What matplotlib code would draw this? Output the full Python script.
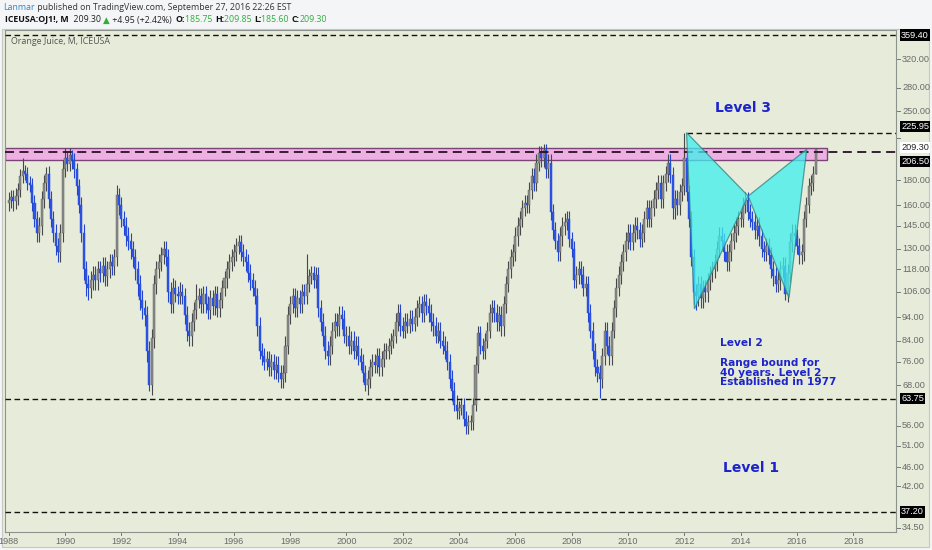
import matplotlib
matplotlib.use("Agg")
import matplotlib.pyplot as plt
from matplotlib.patches import Rectangle, Polygon
from matplotlib.ticker import NullLocator
import numpy as np

# ---------------- data (monthly OHLC, Jan 1988 .. Sep 2016) ----------------
START_YEAR = 1988
opens = [
    162, 164, 166, 163, 167, 172, 184, 188, 186, 178, 176, 162,   # 1988
    150, 140, 145, 165, 178, 186, 165, 150, 140, 132, 128, 140,   # 1989
    190, 200, 195, 203, 198, 190, 175, 160, 140, 118, 110, 108,   # 1990
    112, 115, 112, 118, 116, 120, 114, 118, 122, 120, 125, 168,   # 1991
    160, 150, 145, 138, 135, 130, 125, 118, 110, 102, 98, 95,     # 1992
    80, 68, 85, 110, 118, 122, 126, 130, 125, 106, 100, 108,      # 1993
    105, 104, 106, 104, 95, 88, 86, 92, 97, 102, 104, 100,        # 1994
    105, 100, 97, 103, 99, 105, 98, 102, 108, 113, 118, 122,      # 1995
    125, 128, 132, 134, 128, 125, 122, 116, 112, 108, 104, 90,    # 1996
    80, 78, 76, 77, 74, 76, 73, 75, 72, 70, 72, 82,               # 1997
    95, 100, 104, 98, 103, 100, 106, 104, 110, 114, 116, 112,     # 1998
    115, 98, 92, 86, 80, 78, 82, 88, 92, 90, 95, 93,              # 1999
    86, 86, 82, 84, 80, 82, 78, 76, 72, 68, 70, 74,               # 2000
    76, 75, 78, 74, 77, 80, 80, 82, 84, 86, 92, 96,               # 2001
    90, 88, 92, 90, 93, 91, 94, 98, 100, 96, 101, 99,             # 2002
    96, 92, 90, 86, 88, 84, 82, 80, 76, 70, 66, 62,               # 2003
    60, 61, 62, 58, 56, 57, 57, 62, 75, 87, 82, 80,               # 2004
    84, 88, 96, 98, 96, 92, 95, 90, 100, 110, 118, 125,           # 2005
    128, 138, 145, 150, 158, 162, 160, 172, 184, 178, 196, 205,   # 2006
    200, 208, 190, 196, 155, 142, 135, 128, 138, 145, 148, 150,   # 2007
    136, 130, 112, 115, 118, 115, 108, 110, 96, 88, 80, 74,       # 2008
    72, 70, 78, 88, 82, 78, 88, 98, 108, 115, 122, 128,           # 2009
    135, 140, 134, 140, 145, 142, 136, 140, 150, 158, 150, 158,   # 2010
    165, 172, 178, 165, 178, 186, 196, 185, 158, 165, 160, 170,   # 2011
    175, 200, 170, 150, 125, 106, 104, 110, 103, 108, 106, 112,   # 2012
    116, 118, 122, 130, 138, 135, 128, 122, 128, 135, 140, 145,   # 2013
    150, 150, 160, 164, 155, 150, 148, 142, 145, 138, 130, 128,   # 2014
    132, 126, 118, 114, 110, 112, 118, 120, 105, 116, 134, 140,   # 2015
    138, 132, 126, 128, 150, 160, 175, 178, 185.75,               # 2016
]
highs = [
    170, 172, 172, 174, 178, 190, 200, 194, 192, 184, 182, 168,
    156, 151, 171, 185, 192, 193, 171, 156, 146, 137, 146, 198,
    210, 207, 210, 208, 205, 196, 181, 166, 146, 123, 115, 117,
    120, 120, 123, 123, 125, 125, 123, 127, 127, 130, 176, 174,
    166, 156, 151, 144, 140, 135, 130, 123, 115, 107, 102, 99,
    84, 89, 115, 123, 127, 131, 135, 135, 130, 111, 113, 112,
    109, 111, 110, 108, 99, 92, 96, 101, 110, 108, 108, 109,
    109, 104, 107, 107, 109, 109, 106, 112, 117, 123, 127, 130,
    133, 137, 139, 139, 133, 130, 127, 121, 116, 112, 108, 94,
    83, 81, 80, 80, 79, 79, 78, 78, 75, 75, 86, 99,
    104, 108, 108, 107, 107, 110, 110, 127, 118, 120, 120, 119,
    119, 102, 96, 90, 84, 86, 92, 96, 96, 99, 99, 97,
    90, 90, 88, 88, 86, 86, 81, 79, 75, 73, 77, 79,
    79, 81, 81, 80, 83, 83, 85, 87, 89, 96, 100, 100,
    94, 96, 96, 97, 97, 98, 102, 104, 104, 105, 105, 103,
    100, 96, 94, 92, 92, 88, 86, 84, 79, 73, 69, 65,
    63, 64, 64, 60, 59, 59, 64, 78, 90, 90, 85, 87,
    92, 100, 102, 102, 100, 99, 99, 104, 114, 123, 130, 133,
    144, 151, 156, 164, 168, 168, 179, 191, 191, 204, 212, 212,
    214, 214, 204, 204, 161, 148, 140, 144, 151, 154, 156, 156,
    141, 135, 120, 123, 123, 120, 114, 114, 100, 92, 83, 77,
    75, 81, 92, 92, 86, 92, 102, 113, 120, 127, 133, 141,
    146, 146, 146, 151, 151, 148, 146, 156, 164, 164, 164, 172,
    179, 185, 185, 185, 193, 204, 204, 192, 172, 172, 177, 182,
    226, 206, 176, 156, 130, 110, 114, 114, 112, 112, 116, 120,
    123, 127, 135, 144, 144, 140, 133, 133, 140, 146, 151, 156,
    156, 166, 170, 170, 161, 156, 154, 151, 151, 143, 135, 137,
    137, 131, 123, 119, 117, 123, 125, 125, 121, 140, 146, 146,
    143, 137, 133, 156, 166, 182, 185, 193, 209.85,
]
lows = [
    156, 158, 156, 157, 160, 166, 178, 180, 172, 170, 156, 144,
    134, 134, 139, 158, 171, 158, 144, 134, 126, 122, 122, 134,
    183, 188, 188, 190, 182, 168, 154, 134, 112, 104, 102, 103,
    107, 107, 107, 111, 111, 109, 109, 113, 115, 115, 120, 153,
    144, 139, 132, 129, 124, 119, 112, 104, 97, 93, 90, 76,
    66, 65, 81, 105, 113, 117, 121, 120, 101, 96, 96, 101,
    100, 100, 100, 91, 84, 82, 82, 88, 93, 98, 96, 96,
    96, 93, 93, 95, 95, 94, 94, 98, 104, 108, 113, 117,
    120, 123, 127, 123, 120, 117, 111, 107, 104, 100, 86, 77,
    75, 73, 73, 71, 71, 70, 70, 69, 67, 67, 69, 79,
    91, 96, 94, 94, 96, 96, 100, 100, 106, 110, 108, 108,
    94, 88, 82, 77, 75, 75, 79, 85, 86, 86, 89, 83,
    82, 79, 79, 77, 77, 75, 73, 69, 66, 65, 67, 71,
    72, 72, 71, 71, 74, 77, 77, 79, 81, 83, 88, 86,
    85, 85, 87, 87, 88, 88, 90, 94, 92, 92, 95, 92,
    88, 86, 83, 83, 81, 79, 77, 73, 67, 63, 60, 58,
    58, 59, 56, 54, 54, 55, 55, 60, 72, 79, 77, 77,
    81, 85, 92, 92, 88, 88, 86, 86, 96, 106, 113, 120,
    123, 132, 139, 144, 152, 154, 154, 165, 171, 171, 188, 192,
    192, 182, 182, 149, 136, 130, 123, 123, 132, 139, 142, 131,
    125, 108, 108, 110, 110, 104, 104, 92, 85, 77, 71, 69,
    64, 67, 75, 79, 75, 75, 85, 94, 104, 110, 117, 123,
    130, 129, 129, 134, 136, 131, 131, 134, 144, 144, 144, 152,
    158, 165, 158, 158, 171, 179, 178, 150, 150, 153, 153, 163,
    168, 163, 144, 120, 100, 97, 99, 98, 98, 101, 101, 107,
    111, 113, 117, 125, 130, 123, 117, 117, 123, 130, 134, 139,
    144, 144, 154, 149, 144, 142, 136, 136, 132, 125, 123, 123,
    121, 113, 109, 106, 106, 107, 113, 102, 101, 111, 128, 132,
    127, 121, 121, 123, 144, 154, 168, 171, 185.6,
]
closes = [
    164, 166, 163, 167, 172, 184, 188, 186, 178, 176, 162, 150,
    140, 145, 165, 178, 186, 165, 150, 140, 132, 128, 140, 190,
    200, 195, 203, 198, 190, 175, 160, 140, 118, 110, 108, 112,
    115, 112, 118, 116, 120, 114, 118, 122, 120, 125, 168, 160,
    150, 145, 138, 135, 130, 125, 118, 110, 102, 98, 95, 80,
    68, 85, 110, 118, 122, 126, 130, 125, 106, 100, 108, 105,
    104, 106, 104, 95, 88, 86, 92, 97, 102, 104, 100, 105,
    100, 97, 103, 99, 105, 98, 102, 108, 113, 118, 122, 125,
    128, 132, 134, 128, 125, 122, 116, 112, 108, 104, 90, 80,
    78, 76, 77, 74, 76, 73, 75, 72, 70, 72, 82, 95,
    100, 104, 98, 103, 100, 106, 104, 110, 114, 116, 112, 115,
    98, 92, 86, 80, 78, 82, 88, 92, 90, 95, 93, 86,
    86, 82, 84, 80, 82, 78, 76, 72, 68, 70, 74, 76,
    75, 78, 74, 77, 80, 80, 82, 84, 86, 92, 96, 90,
    88, 92, 90, 93, 91, 94, 98, 100, 96, 101, 99, 96,
    92, 90, 86, 88, 84, 82, 80, 76, 70, 66, 62, 60,
    61, 62, 58, 56, 57, 57, 62, 75, 87, 82, 80, 84,
    88, 96, 98, 96, 92, 95, 90, 100, 110, 118, 125, 128,
    138, 145, 150, 158, 162, 160, 172, 184, 178, 196, 205, 200,
    208, 190, 196, 155, 142, 135, 128, 138, 145, 148, 150, 136,
    130, 112, 115, 118, 115, 108, 110, 96, 88, 80, 74, 72,
    70, 78, 88, 82, 78, 88, 98, 108, 115, 122, 128, 135,
    140, 134, 140, 145, 142, 136, 140, 150, 158, 150, 158, 165,
    172, 178, 165, 178, 186, 196, 185, 158, 165, 160, 170, 175,
    200, 170, 150, 125, 106, 104, 110, 103, 108, 106, 112, 116,
    118, 122, 130, 138, 135, 128, 122, 128, 135, 140, 145, 150,
    150, 160, 164, 155, 150, 148, 142, 145, 138, 130, 128, 132,
    126, 118, 114, 110, 112, 118, 120, 105, 116, 134, 140, 138,
    132, 126, 128, 150, 160, 175, 178, 185.75, 209.3,
]

# horizontal levels and zone
full_levels = [359.40, 63.75, 37.20]
x_level = 225.95
zone_line = 206.50
last_price = 209.30
zone_low, zone_high, zone_end = 198.3, 209.7, 2017.07

# butterfly pattern points X, A, B, C, D
pattern_years = [2012.08, 2012.36, 2014.27, 2015.72, 2016.35]
pattern_prices = [225.95, 97.7, 167.1, 103.0, 208.7]

# axis ticks
y_ticks = [34.5, 42, 46, 51, 56, 68, 76, 84, 94, 106, 118, 130, 145, 160, 180, 220, 250, 280, 320]
x_tick_years = list(range(1988, 2019, 2))

# ---------------- figure ----------------
W, H = 932, 550
BG = "#e6ecd9"
fig = plt.figure(figsize=(W / 100, H / 100), dpi=100, facecolor="#f3f5f6")
fig.patches.append(Rectangle((2 / W, 1 - 547 / H), 927 / W, 518 / H, transform=fig.transFigure,
                             facecolor=BG, edgecolor="#c4c8c4", lw=0.8, zorder=-10))

ax_l, ax_r, ax_t, ax_b = 5, 896, 30, 532
ax = fig.add_axes([ax_l / W, 1 - ax_b / H, (ax_r - ax_l) / W, (ax_b - ax_t) / H])
ax.set_zorder(1)
ax.set_facecolor(BG)
ax.set_yscale("log")
ax.set_xlim(1987.869, 2019.521)
ax.set_ylim(33.82, 368.1)
ax.yaxis.set_minor_locator(NullLocator())
ax.set_xticks([])
ax.set_yticks([])
for s in ax.spines.values():
    s.set_color("#8c928c")
    s.set_linewidth(0.8)

# candles
o = np.array(opens, float)
h = np.array(highs, float)
l = np.array(lows, float)
c = np.array(closes, float)
xs = START_YEAR + np.arange(len(c)) / 12.0
up = c >= o
body_col = np.where(up, "#8c8c8c", "#2d55e6")
edge_col = np.where(up, "#5a5a5a", "#2346d0")
wick_col = np.where(up, "#474747", "#2346d0")
ax.vlines(xs, l, h, colors=wick_col, lw=0.8, zorder=3)
bot = np.minimum(o, c)
hgt = np.maximum(np.abs(c - o), 0.4)
ax.bar(xs, hgt, bottom=bot, width=0.072, color=body_col, edgecolor=edge_col, lw=0.3, zorder=4)

# zone
ax.add_patch(Rectangle((1987.869, zone_low), zone_end - 1987.869, zone_high - zone_low,
                       facecolor="#eeb0e2", edgecolor="#7a4576", lw=1.0, zorder=2))

# dashed levels
for lv in full_levels:
    ax.axhline(lv, color="#111111", lw=1.0, ls=(0, (4, 2.5)), zorder=5)
ax.plot([pattern_years[0], 2019.521], [x_level, x_level], color="#111111", lw=1.0,
        ls=(0, (4, 2.5)), zorder=5)
ax.axhline(zone_line, color="#2a1028", lw=1.3, ls=(0, (5, 3)), zorder=5)

# butterfly
py, pp = pattern_years, pattern_prices
for idx in ([0, 1, 2], [2, 3, 4]):
    ax.add_patch(Polygon([(py[i], pp[i]) for i in idx], closed=True, facecolor="#3ef0ee",
                         edgecolor="#2f7f80", lw=0.9, alpha=0.75, zorder=6))

# right axis labels
FONT_AX = dict(family=["Liberation Sans", "DejaVu Sans"], fontsize=6.6)
trans_r = ax.get_yaxis_transform()
for v in y_ticks:
    ax.plot([1.0, 1.0 + 4 / 891], [v, v], transform=trans_r, color="#777777", lw=0.7, clip_on=False)
    dy = -8 if v == 220 else 0
    ax.annotate(f"{v:.2f}", xy=(1.0, v), xycoords=trans_r, xytext=(6, dy), textcoords="offset pixels",
                ha="left", va="center", color="#6a6a6a", annotation_clip=False, **FONT_AX)

boxed = [(359.40, 0), (225.95, 6), (206.50, -10), (63.75, 0), (37.20, 0)]
for v, dy in boxed:
    ax.annotate(f"{v:.2f}", xy=(1.0, v), xycoords=trans_r, xytext=(5, dy), textcoords="offset pixels",
                ha="left", va="center", color="white", annotation_clip=False,
                bbox=dict(boxstyle="square,pad=0.12", fc="black", ec="none"), **FONT_AX)
ax.annotate(f"{last_price:.2f}", xy=(1.0, last_price), xycoords=trans_r, xytext=(5, 1),
            textcoords="offset pixels", ha="left", va="center", color="#222222",
            annotation_clip=False, bbox=dict(boxstyle="square,pad=0.12", fc="white", ec="none"), **FONT_AX)

# bottom axis labels
trans_b = ax.get_xaxis_transform()
for yr in x_tick_years:
    ax.plot([yr, yr], [0, -3 / 502], transform=trans_b, color="#777777", lw=0.7, clip_on=False)
    ax.annotate(str(yr), xy=(yr, 0), xycoords=trans_b, xytext=(0, -9), textcoords="offset pixels",
                ha="center", va="center", color="#6a6a6a", annotation_clip=False, **FONT_AX)

# annotations
BLUE = "#1d24cc"
def ftxt(x, y, s, **kw):
    return fig.text(x / W, 1 - y / H, s, zorder=5, **kw)

ftxt(715, 108, "Level 3", color=BLUE, fontsize=10, weight="bold", va="center", family="DejaVu Sans")
ftxt(723, 468, "Level 1", color=BLUE, fontsize=10, weight="bold", va="center", family="DejaVu Sans")
ftxt(720, 343, "Level 2", color=BLUE, fontsize=7.6, weight="bold", va="center", family="DejaVu Sans")
ftxt(720, 358, "Range bound for\n40 years. Level 2\nEstablished in 1977", color=BLUE, fontsize=7.6,
     weight="bold", va="top", family="DejaVu Sans", linespacing=0.95)

ftxt(11, 42, "Orange Juice, M, ICEUSA", color="#555555", fontsize=6.4, va="center",
     family=["Open Sans", "DejaVu Sans"])

# header lines
renderer = fig.canvas.get_renderer()
HFONT = ["Open Sans", "DejaVu Sans"]
def chain(x0, y0, parts, size):
    x = x0
    for s, col, wt in parts:
        t = fig.text(x / W, 1 - y0 / H, s, color=col, weight=wt, fontsize=size, va="center",
                     ha="left", family=HFONT)
        x += t.get_window_extent(renderer=renderer).width

GREEN = "#2fae3c"
chain(3, 7, [("Lanmar", "#2e86c8", "normal"),
             (" published on TradingView.com, September 27, 2016 22:26 EST", "#333333", "normal")], 6.3)
chain(5, 20, [("ICEUSA:OJ1!, M", "#111111", "bold"), ("  209.30 ", "#222222", "normal"),
              ("\u25B2", GREEN, "normal"), (" +4.95 (+2.42%)  ", "#222222", "normal"),
              ("O:", "#111111", "bold"), ("185.75 ", GREEN, "normal"),
              ("H:", "#111111", "bold"), ("209.85 ", GREEN, "normal"),
              ("L:", "#111111", "bold"), ("185.60 ", GREEN, "normal"),
              ("C:", "#111111", "bold"), ("209.30", GREEN, "normal")], 6.3)

fig.savefig("out.png", dpi=100, facecolor=fig.get_facecolor())
